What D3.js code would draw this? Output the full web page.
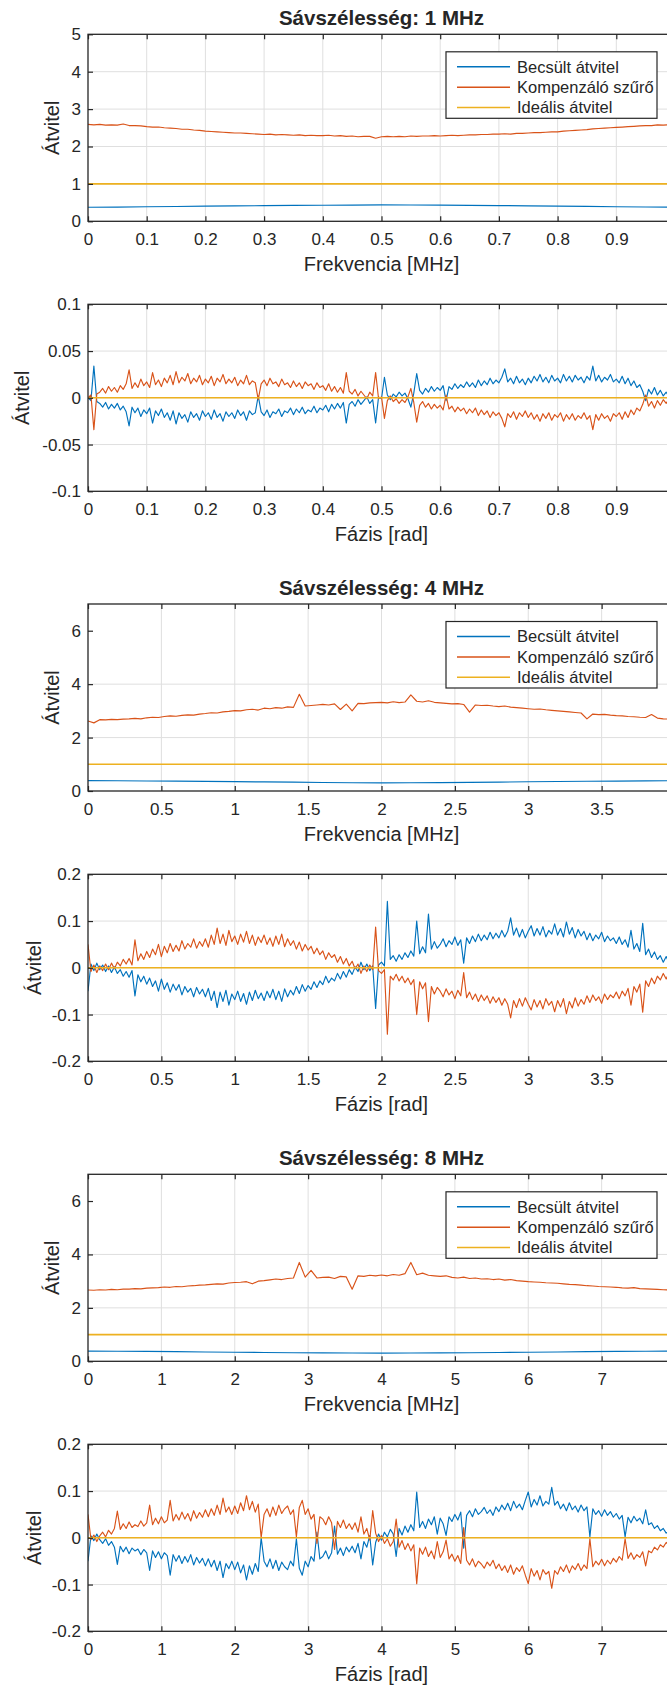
<!DOCTYPE html>
<html>
<head>
<meta charset="utf-8">
<script src="https://cdn.jsdelivr.net/npm/d3@7/dist/d3.min.js"></script>
<style>
  body { margin: 0; background: #fff; }
  svg { display: block; }
  text { font-family: "Liberation Sans", Arial, Helvetica, sans-serif; fill: #262626; }
</style>
</head>
<body>
<svg id="chart" width="667" height="1688"></svg>
<script>
// series names / colours (MATLAB default order)
const seriesNames = ["Becsült átvitel", "Kompenzáló szűrő", "Ideális átvitel"];
const colors = ["#0072bd", "#d95319", "#edb120"];
const titles = ["Sávszélesség: 1 MHz", "Sávszélesség: 4 MHz", "Sávszélesség: 8 MHz"];
const bandwidths = [1, 4, 8];

// tick values
const xTicks1 = [0, 0.1, 0.2, 0.3, 0.4, 0.5, 0.6, 0.7, 0.8, 0.9];
const xTicks4 = [0, 0.5, 1, 1.5, 2, 2.5, 3, 3.5];
const xTicks8 = [0, 1, 2, 3, 4, 5, 6, 7];
const yTicksMag1 = [0, 1, 2, 3, 4, 5];
const yTicksMag = [0, 2, 4, 6];
const yTicksPh1 = [-0.1, -0.05, 0, 0.05, 0.1];
const yTicksPh = [-0.2, -0.1, 0, 0.1, 0.2];

// --- 1 MHz: magnitude (samples evenly spread over 0..1 MHz)
const becsultMag1 = [0.375, 0.38, 0.388, 0.396, 0.404, 0.412, 0.419, 0.425, 0.43, 0.434, 0.438,
  0.436, 0.432, 0.427, 0.421, 0.414, 0.406, 0.398, 0.39, 0.382, 0.376];
const kompMag1 = [
  2.59, 2.58, 2.59, 2.57, 2.58, 2.57, 2.6, 2.56, 2.56, 2.55,
  2.53, 2.52, 2.52, 2.5, 2.49, 2.48, 2.46, 2.46, 2.44, 2.43,
  2.41, 2.4, 2.39, 2.38, 2.37, 2.36, 2.36, 2.35, 2.34, 2.33,
  2.32, 2.33, 2.31, 2.32, 2.31, 2.3, 2.31, 2.29, 2.3, 2.29,
  2.29, 2.3, 2.28, 2.29, 2.27, 2.28, 2.26, 2.27, 2.27, 2.22,
  2.26, 2.27, 2.26, 2.27, 2.26, 2.28, 2.27, 2.28, 2.28, 2.29,
  2.28, 2.29, 2.3, 2.29, 2.3, 2.31, 2.31, 2.32, 2.32, 2.33,
  2.33, 2.34, 2.33, 2.35, 2.35, 2.36, 2.37, 2.37, 2.38, 2.39,
  2.39, 2.41, 2.42, 2.43, 2.44, 2.45, 2.47, 2.48, 2.49, 2.5,
  2.51, 2.52, 2.53, 2.54, 2.55, 2.56, 2.56, 2.58, 2.57, 2.58,
  2.59];

// --- 1 MHz: phase
const becsultPh1 = [
  0, -0.003, 0.034, -0.004, -0.006, -0.01, -0.005, -0.012, -0.007, -0.011,
  -0.006, -0.013, -0.009, -0.015, -0.03, -0.01, -0.016, -0.011, -0.02, -0.013,
  -0.017, -0.011, -0.027, -0.014, -0.019, -0.012, -0.021, -0.016, -0.024, -0.014,
  -0.028, -0.016, -0.022, -0.018, -0.026, -0.015, -0.021, -0.017, -0.024, -0.014,
  -0.02, -0.016, -0.023, -0.013, -0.021, -0.017, -0.025, -0.015, -0.02, -0.016,
  -0.022, -0.013, -0.019, -0.015, -0.024, -0.014, -0.018, -0.016, 0.002, -0.015,
  -0.019, -0.013, -0.021, -0.015, -0.017, -0.012, -0.02, -0.014, -0.016, -0.011,
  -0.018, -0.012, -0.016, -0.01, -0.017, -0.013, -0.015, -0.009, -0.016, -0.011,
  -0.013, -0.008, -0.015, -0.007, -0.012, -0.006, -0.011, -0.005, -0.027, -0.007,
  -0.004, -0.009, -0.002, -0.007, -0.003, 0.001, -0.006, -0.002, -0.027, 0.001,
  -0.001, 0.022, 0.003, -0.002, 0.004, 0.001, 0.006, 0.002, 0.005, -0.001,
  -0.01, 0.005, 0.026, 0.008, 0.004, 0.01, 0.006, 0.012, 0.007, 0.011,
  0.008, 0.013, -0.003, 0.012, 0.009, 0.015, 0.01, 0.014, 0.011, 0.017,
  0.012, 0.016, 0.011, 0.019, 0.013, 0.018, 0.014, 0.021, 0.015, 0.019,
  0.016, 0.022, 0.031, 0.017, 0.021, 0.015, 0.023, 0.016, 0.02, 0.014,
  0.021, 0.016, 0.023, 0.018, 0.025, 0.017, 0.022, 0.016, 0.024, 0.018,
  0.021, 0.016, 0.025, 0.018, 0.023, 0.017, 0.024, 0.019, 0.022, 0.016,
  0.023, 0.019, 0.034, 0.018, 0.024, 0.017, 0.022, 0.019, 0.025, 0.017,
  0.02, 0.016, 0.023, 0.015, 0.021, 0.013, 0.018, 0.011, 0.014, 0.007,
  -0.003, 0.009, 0.004, 0.011, 0.003, 0.008, 0.002, 0.006, 0.001, 0.005,
  0.003];
const kompPh1 = [
  0, 0.003, -0.034, 0.004, 0.006, 0.01, 0.005, 0.012, 0.007, 0.011,
  0.006, 0.013, 0.009, 0.015, 0.03, 0.01, 0.016, 0.011, 0.02, 0.013,
  0.017, 0.011, 0.027, 0.014, 0.019, 0.012, 0.021, 0.016, 0.024, 0.014,
  0.028, 0.016, 0.022, 0.018, 0.026, 0.015, 0.021, 0.017, 0.024, 0.014,
  0.02, 0.016, 0.023, 0.013, 0.021, 0.017, 0.025, 0.015, 0.02, 0.016,
  0.022, 0.013, 0.019, 0.015, 0.024, 0.014, 0.018, 0.016, -0.002, 0.015,
  0.019, 0.013, 0.021, 0.015, 0.017, 0.012, 0.02, 0.014, 0.016, 0.011,
  0.018, 0.012, 0.016, 0.01, 0.017, 0.013, 0.015, 0.009, 0.016, 0.011,
  0.013, 0.008, 0.015, 0.007, 0.012, 0.006, 0.011, 0.005, 0.027, 0.007,
  0.004, 0.009, 0.002, 0.007, 0.003, -0.001, 0.006, 0.002, 0.027, -0.001,
  0.001, -0.022, -0.003, 0.002, -0.004, -0.001, -0.006, -0.002, -0.005, 0.001,
  0.01, -0.005, -0.026, -0.008, -0.004, -0.01, -0.006, -0.012, -0.007, -0.011,
  -0.008, -0.013, 0.003, -0.012, -0.009, -0.015, -0.01, -0.014, -0.011, -0.017,
  -0.012, -0.016, -0.011, -0.019, -0.013, -0.018, -0.014, -0.021, -0.015, -0.019,
  -0.016, -0.022, -0.031, -0.017, -0.021, -0.015, -0.023, -0.016, -0.02, -0.014,
  -0.021, -0.016, -0.023, -0.018, -0.025, -0.017, -0.022, -0.016, -0.024, -0.018,
  -0.021, -0.016, -0.025, -0.018, -0.023, -0.017, -0.024, -0.019, -0.022, -0.016,
  -0.023, -0.019, -0.034, -0.018, -0.024, -0.017, -0.022, -0.019, -0.025, -0.017,
  -0.02, -0.016, -0.023, -0.015, -0.021, -0.013, -0.018, -0.011, -0.014, -0.007,
  0.003, -0.009, -0.004, -0.011, -0.003, -0.008, -0.002, -0.006, -0.001, -0.005,
  -0.003];

// --- 4 MHz: magnitude
const becsultMag4 = [0.39, 0.385, 0.375, 0.37, 0.36, 0.35, 0.34, 0.33, 0.32, 0.31, 0.305,
  0.31, 0.315, 0.325, 0.335, 0.345, 0.355, 0.365, 0.37, 0.38, 0.385];
const kompMag4 = [
  2.62, 2.55, 2.67, 2.66, 2.68, 2.67, 2.69, 2.7, 2.72, 2.7,
  2.74, 2.76, 2.75, 2.79, 2.81, 2.8, 2.83, 2.85, 2.84, 2.88,
  2.9, 2.93, 2.92, 2.96, 2.98, 3.01, 3.0, 3.04, 3.06, 3.03,
  3.1, 3.08, 3.12, 3.1, 3.15, 3.13, 3.62, 3.18, 3.2, 3.22,
  3.24, 3.22, 3.26, 3.05, 3.25, 3.0, 3.28, 3.27, 3.3, 3.31,
  3.32, 3.3, 3.34, 3.31, 3.33, 3.6, 3.36, 3.33, 3.38, 3.32,
  3.3, 3.28, 3.26, 3.27, 3.24, 2.95, 3.22, 3.2, 3.21, 3.18,
  3.16, 3.18, 3.14, 3.12, 3.1, 3.08, 3.06, 3.07, 3.04, 3.02,
  3.0, 2.98, 2.96, 2.94, 2.92, 2.7, 2.88, 2.86, 2.87, 2.84,
  2.82, 2.81, 2.79, 2.78, 2.76, 2.75, 2.86, 2.73, 2.7, 2.69,
  2.67];

// --- 4 MHz: phase
const becsultPh4 = [
  -0.05, 0.008, -0.006, 0.01, -0.004, 0.006, -0.008, 0.004, -0.01, 0.002,
  -0.012, -0.004, -0.018, -0.008, -0.02, -0.006, -0.06, -0.015, -0.03, -0.018,
  -0.035, -0.022, -0.04, -0.028, -0.05, -0.024, -0.046, -0.032, -0.052, -0.035,
  -0.048, -0.036, -0.058, -0.04, -0.052, -0.044, -0.062, -0.042, -0.056, -0.046,
  -0.062, -0.044, -0.07, -0.05, -0.085, -0.052, -0.072, -0.048, -0.08, -0.056,
  -0.068, -0.05, -0.072, -0.055, -0.078, -0.052, -0.07, -0.048, -0.066, -0.054,
  -0.07, -0.05, -0.064, -0.046, -0.068, -0.05, -0.072, -0.045, -0.062, -0.048,
  -0.058, -0.04, -0.055, -0.036, -0.05, -0.038, -0.046, -0.03, -0.042, -0.028,
  -0.036, -0.018, -0.032, -0.022, -0.028, -0.012, -0.024, -0.008, -0.02, -0.004,
  -0.014, 0.002, -0.008, 0.012, -0.004, 0.008, -0.006, 0.004, -0.087, 0.006,
  0.012, 0.004, 0.142, 0.018, 0.026, 0.014, 0.028, 0.018, 0.032, 0.022,
  0.036, 0.025, 0.1, 0.03, 0.045, 0.032, 0.115, 0.04, 0.056, 0.042,
  0.05, 0.062, 0.045, 0.058, 0.05, 0.066, 0.048, 0.06, 0.01, 0.064,
  0.052, 0.068, 0.056, 0.072, 0.058, 0.07, 0.06, 0.076, 0.062, 0.074,
  0.064, 0.08, 0.066, 0.078, 0.107, 0.07, 0.085, 0.066, 0.082, 0.064,
  0.078, 0.09, 0.068, 0.084, 0.07, 0.088, 0.066, 0.08, 0.072, 0.094,
  0.07, 0.084, 0.066, 0.098, 0.072, 0.086, 0.064, 0.082, 0.068, 0.078,
  0.06, 0.074, 0.058, 0.07, 0.062, 0.076, 0.056, 0.068, 0.058, 0.064,
  0.052, 0.066, 0.05, 0.06, 0.044, 0.08, 0.04, 0.052, 0.035, 0.095,
  0.028, 0.04, 0.022, 0.034, 0.018, 0.026, 0.012, 0.024, 0.01, 0.018,
  0.012];
const kompPh4 = [
  0.05, -0.008, 0.006, -0.01, 0.004, -0.006, 0.008, -0.004, 0.01, -0.002,
  0.012, 0.004, 0.018, 0.008, 0.02, 0.006, 0.06, 0.015, 0.03, 0.018,
  0.035, 0.022, 0.04, 0.028, 0.05, 0.024, 0.046, 0.032, 0.052, 0.035,
  0.048, 0.036, 0.058, 0.04, 0.052, 0.044, 0.062, 0.042, 0.056, 0.046,
  0.062, 0.044, 0.07, 0.05, 0.085, 0.052, 0.072, 0.048, 0.08, 0.056,
  0.068, 0.05, 0.072, 0.055, 0.078, 0.052, 0.07, 0.048, 0.066, 0.054,
  0.07, 0.05, 0.064, 0.046, 0.068, 0.05, 0.072, 0.045, 0.062, 0.048,
  0.058, 0.04, 0.055, 0.036, 0.05, 0.038, 0.046, 0.03, 0.042, 0.028,
  0.036, 0.018, 0.032, 0.022, 0.028, 0.012, 0.024, 0.008, 0.02, 0.004,
  0.014, -0.002, 0.008, -0.012, 0.004, -0.008, 0.006, -0.004, 0.087, -0.006,
  -0.012, -0.004, -0.142, -0.018, -0.026, -0.014, -0.028, -0.018, -0.032, -0.022,
  -0.036, -0.025, -0.1, -0.03, -0.045, -0.032, -0.115, -0.04, -0.056, -0.042,
  -0.05, -0.062, -0.045, -0.058, -0.05, -0.066, -0.048, -0.06, -0.01, -0.064,
  -0.052, -0.068, -0.056, -0.072, -0.058, -0.07, -0.06, -0.076, -0.062, -0.074,
  -0.064, -0.08, -0.066, -0.078, -0.107, -0.07, -0.085, -0.066, -0.082, -0.064,
  -0.078, -0.09, -0.068, -0.084, -0.07, -0.088, -0.066, -0.08, -0.072, -0.094,
  -0.07, -0.084, -0.066, -0.098, -0.072, -0.086, -0.064, -0.082, -0.068, -0.078,
  -0.06, -0.074, -0.058, -0.07, -0.062, -0.076, -0.056, -0.068, -0.058, -0.064,
  -0.052, -0.066, -0.05, -0.06, -0.044, -0.08, -0.04, -0.052, -0.035, -0.095,
  -0.028, -0.04, -0.022, -0.034, -0.018, -0.026, -0.012, -0.024, -0.01, -0.018,
  -0.012];

// --- 8 MHz: magnitude
const becsultMag8 = [0.38, 0.375, 0.37, 0.36, 0.35, 0.34, 0.33, 0.32, 0.315, 0.31, 0.305,
  0.31, 0.315, 0.32, 0.33, 0.34, 0.35, 0.36, 0.37, 0.375, 0.38];
const kompMag8 = [
  2.67, 2.66, 2.68, 2.67, 2.69, 2.68, 2.7, 2.7, 2.72, 2.71,
  2.74, 2.75, 2.76, 2.78, 2.77, 2.8, 2.79, 2.82, 2.83, 2.85,
  2.86, 2.88, 2.9, 2.89, 2.93, 2.95, 2.96, 2.98, 2.9, 3.0,
  3.02, 3.05, 3.08, 3.06, 3.1, 3.12, 3.7, 3.15, 3.4, 3.12,
  3.14, 3.15, 3.1, 3.18, 3.16, 2.7, 3.2, 3.18, 3.22, 3.2,
  3.23, 3.2, 3.25, 3.22, 3.28, 3.7, 3.24, 3.3, 3.22, 3.2,
  3.18, 3.2, 3.14, 3.12, 3.15, 3.1, 3.12, 3.08, 3.09, 3.06,
  3.08, 3.04, 3.06, 3.02, 3.0, 2.98, 2.97, 2.96, 2.94, 2.93,
  2.92, 2.9, 2.88, 2.87, 2.85, 2.83, 2.82, 2.8, 2.79, 2.78,
  2.77, 2.75, 2.74, 2.76, 2.72, 2.71, 2.7, 2.69, 2.68, 2.67,
  2.66];

// --- 8 MHz: phase
const becsultPh8 = [
  -0.05, 0.004, -0.006, 0.008, -0.004, -0.012, -0.002, -0.016, -0.008, -0.02,
  -0.057, -0.018, -0.03, -0.02, -0.034, -0.022, -0.028, -0.024, -0.036, -0.025,
  -0.032, -0.07, -0.028, -0.042, -0.03, -0.045, -0.032, -0.038, -0.08, -0.036,
  -0.05, -0.038, -0.055, -0.04, -0.052, -0.036, -0.058, -0.042, -0.054, -0.044,
  -0.06, -0.045, -0.062, -0.048, -0.07, -0.05, -0.085, -0.055, -0.066, -0.05,
  -0.068, -0.052, -0.075, -0.058, -0.09, -0.06, -0.078, -0.055, -0.072, 0.0,
  -0.05, -0.062, -0.045, -0.066, -0.048, -0.07, -0.052, -0.062, -0.068, -0.05,
  -0.06, -0.002, -0.065, -0.08, -0.05, -0.062, -0.04, -0.05, 0.012, -0.045,
  -0.04, -0.028, -0.045, -0.032, 0.025, -0.035, -0.022, -0.038, -0.02, -0.03,
  -0.018, -0.032, -0.012, -0.045, -0.008, -0.02, 0.005, -0.058, -0.01, 0.008,
  -0.005, 0.012, 0.002, 0.018, 0.008, -0.04, 0.02, 0.006, 0.025, 0.012,
  0.028, 0.015, 0.098, 0.022, 0.035, 0.02, 0.04, 0.028, 0.045, 0.008,
  0.042, 0.03, 0.005, 0.045, 0.035, 0.05, 0.038, 0.055, -0.022, 0.048,
  0.058, 0.045, 0.062, 0.05, 0.056, 0.065, 0.052, 0.06, 0.048, 0.066,
  0.056, 0.07, 0.06, 0.074, 0.058, 0.078, 0.064, 0.072, 0.06, 0.08,
  0.098, 0.066, 0.082, 0.07, 0.09, 0.068, 0.078, 0.072, 0.108, 0.07,
  0.078, 0.062, 0.072, 0.058, 0.075, 0.06, 0.068, 0.055, 0.07, 0.058,
  0.066, 0.002, 0.062, 0.05, 0.058, 0.046, 0.06, 0.048, 0.056, 0.044,
  0.052, 0.04, 0.048, 0.002, 0.044, 0.032, 0.046, 0.036, 0.042, 0.03,
  0.06, 0.028, 0.032, 0.02, 0.026, 0.015, 0.02, 0.01, 0.014, 0.008,
  0.008];
const kompPh8 = [
  0.05, -0.004, 0.006, -0.008, 0.004, 0.012, 0.002, 0.016, 0.008, 0.02,
  0.057, 0.018, 0.03, 0.02, 0.034, 0.022, 0.028, 0.024, 0.036, 0.025,
  0.032, 0.07, 0.028, 0.042, 0.03, 0.045, 0.032, 0.038, 0.08, 0.036,
  0.05, 0.038, 0.055, 0.04, 0.052, 0.036, 0.058, 0.042, 0.054, 0.044,
  0.06, 0.045, 0.062, 0.048, 0.07, 0.05, 0.085, 0.055, 0.066, 0.05,
  0.068, 0.052, 0.075, 0.058, 0.09, 0.06, 0.078, 0.055, 0.072, 0.0,
  0.05, 0.062, 0.045, 0.066, 0.048, 0.07, 0.052, 0.062, 0.068, 0.05,
  0.06, 0.002, 0.065, 0.08, 0.05, 0.062, 0.04, 0.05, -0.012, 0.045,
  0.04, 0.028, 0.045, 0.032, -0.025, 0.035, 0.022, 0.038, 0.02, 0.03,
  0.018, 0.032, 0.012, 0.045, 0.008, 0.02, -0.005, 0.058, 0.01, -0.008,
  0.005, -0.012, -0.002, -0.018, -0.008, 0.04, -0.02, -0.006, -0.025, -0.012,
  -0.028, -0.015, -0.098, -0.022, -0.035, -0.02, -0.04, -0.028, -0.045, -0.008,
  -0.042, -0.03, -0.005, -0.045, -0.035, -0.05, -0.038, -0.055, 0.022, -0.048,
  -0.058, -0.045, -0.062, -0.05, -0.056, -0.065, -0.052, -0.06, -0.048, -0.066,
  -0.056, -0.07, -0.06, -0.074, -0.058, -0.078, -0.064, -0.072, -0.06, -0.08,
  -0.098, -0.066, -0.082, -0.07, -0.09, -0.068, -0.078, -0.072, -0.108, -0.07,
  -0.078, -0.062, -0.072, -0.058, -0.075, -0.06, -0.068, -0.055, -0.07, -0.058,
  -0.066, -0.002, -0.062, -0.05, -0.058, -0.046, -0.06, -0.048, -0.056, -0.044,
  -0.052, -0.04, -0.048, -0.002, -0.044, -0.032, -0.046, -0.036, -0.042, -0.03,
  -0.06, -0.028, -0.032, -0.02, -0.026, -0.015, -0.02, -0.01, -0.014, -0.008,
  -0.008];

// ideal transfer: |H| = 1, phase = 0
const idealMag = [1, 1];
const idealPh = [0, 0];

// layout
const left = 88, plotW = 587, plotH = 187;
const panelTops = [34.3, 304.3, 604, 874.3, 1174.3, 1444.3];

const panels = [
  { top: panelTops[0], bw: bandwidths[0], title: titles[0], legend: true, xLabel: "Frekvencia [MHz]",
    yDomain: [0, 5], yTicks: yTicksMag1, xTicks: xTicks1, series: [becsultMag1, kompMag1, idealMag], ylabX: 52 },
  { top: panelTops[1], bw: bandwidths[0], xLabel: "Fázis [rad]",
    yDomain: [-0.1, 0.1], yTicks: yTicksPh1, xTicks: xTicks1, series: [becsultPh1, kompPh1, idealPh], ylabX: 22 },
  { top: panelTops[2], bw: bandwidths[1], title: titles[1], legend: true, xLabel: "Frekvencia [MHz]",
    yDomain: [0, 7], yTicks: yTicksMag, xTicks: xTicks4, series: [becsultMag4, kompMag4, idealMag], ylabX: 52 },
  { top: panelTops[3], bw: bandwidths[1], xLabel: "Fázis [rad]",
    yDomain: [-0.2, 0.2], yTicks: yTicksPh, xTicks: xTicks4, series: [becsultPh4, kompPh4, idealPh], ylabX: 34 },
  { top: panelTops[4], bw: bandwidths[2], title: titles[2], legend: true, xLabel: "Frekvencia [MHz]",
    yDomain: [0, 7], yTicks: yTicksMag, xTicks: xTicks8, series: [becsultMag8, kompMag8, idealMag], ylabX: 52 },
  { top: panelTops[5], bw: bandwidths[2], xLabel: "Fázis [rad]",
    yDomain: [-0.2, 0.2], yTicks: yTicksPh, xTicks: xTicks8, series: [becsultPh8, kompPh8, idealPh], ylabX: 34 }
];

const svg = d3.select("#chart");
const fmt = d => String(d);

panels.forEach((p, pi) => {
  const x = d3.scaleLinear().domain([0, p.bw]).range([left, left + plotW]);
  const y = d3.scaleLinear().domain(p.yDomain).range([p.top + plotH, p.top]);
  const g = svg.append("g");

  // grid
  g.append("g").selectAll("line").data(p.xTicks.slice(1)).join("line")
    .attr("x1", d => x(d)).attr("x2", d => x(d))
    .attr("y1", p.top).attr("y2", p.top + plotH)
    .attr("stroke", "#dfdfdf").attr("stroke-width", 1);
  g.append("g").selectAll("line").data(p.yTicks.slice(1, -1)).join("line")
    .attr("x1", left).attr("x2", left + plotW)
    .attr("y1", d => y(d)).attr("y2", d => y(d))
    .attr("stroke", "#dfdfdf").attr("stroke-width", 1);

  // data lines
  const clipId = "clip" + pi;
  g.append("clipPath").attr("id", clipId).append("rect")
    .attr("x", left).attr("y", p.top).attr("width", plotW).attr("height", plotH);
  const lines = g.append("g").attr("clip-path", "url(#" + clipId + ")");
  p.series.forEach((vals, si) => {
    const n = vals.length;
    const line = d3.line()
      .x((d, i) => x(i * p.bw / (n - 1)))
      .y(d => y(d));
    lines.append("path")
      .datum(vals)
      .attr("d", line)
      .attr("fill", "none")
      .attr("stroke", colors[si])
      .attr("stroke-width", si === 2 ? 1.6 : 1.15)
      .attr("stroke-linejoin", "round");
  });

  // axes (ticks inside the box)
  const xb = g.append("g").attr("transform", `translate(0,${p.top + plotH})`)
    .call(d3.axisBottom(x).tickValues(p.xTicks).tickFormat(fmt).tickSizeInner(-5).tickSizeOuter(0).tickPadding(12));
  const xt = g.append("g").attr("transform", `translate(0,${p.top})`)
    .call(d3.axisTop(x).tickValues(p.xTicks).tickFormat("").tickSizeInner(-5).tickSizeOuter(0));
  const yl = g.append("g").attr("transform", `translate(${left},0)`)
    .call(d3.axisLeft(y).tickValues(p.yTicks).tickFormat(fmt).tickSizeInner(-5).tickSizeOuter(0).tickPadding(7));
  [xb, xt, yl].forEach(a => {
    a.select(".domain").remove();
    a.selectAll(".tick line").attr("stroke", "#262626").attr("stroke-width", 1.2);
    a.selectAll("text").attr("font-family", null).attr("font-size", 17).attr("fill", "#262626");
  });

  // box
  g.append("rect")
    .attr("x", left).attr("y", p.top).attr("width", plotW).attr("height", plotH)
    .attr("fill", "none").attr("stroke", "#262626").attr("stroke-width", 1.3);

  // labels
  g.append("text")
    .attr("x", left + plotW / 2).attr("y", p.top + plotH + 50)
    .attr("text-anchor", "middle").attr("font-size", 20)
    .text(p.xLabel);
  g.append("text")
    .attr("transform", `translate(${p.ylabX},${p.top + plotH / 2}) rotate(-90)`)
    .attr("text-anchor", "middle").attr("dy", "0.35em").attr("font-size", 20)
    .text("Átvitel");
  if (p.title) {
    g.append("text")
      .attr("x", left + plotW / 2).attr("y", p.top - 9)
      .attr("text-anchor", "middle").attr("font-size", 20.5).attr("font-weight", "bold")
      .attr("fill", "#000")
      .text(p.title);
  }

  // legend
  if (p.legend) {
    const lx = 446, ly = p.top + 17.5, lw = 211, lh = 66.5;
    const lg = g.append("g");
    lg.append("rect").attr("x", lx).attr("y", ly).attr("width", lw).attr("height", lh)
      .attr("fill", "#fff").attr("stroke", "#262626").attr("stroke-width", 1.2);
    seriesNames.forEach((name, i) => {
      const ry = ly + 15 + i * 20.4;
      lg.append("line").attr("x1", lx + 11).attr("x2", lx + 64)
        .attr("y1", ry).attr("y2", ry)
        .attr("stroke", colors[i]).attr("stroke-width", 1.5);
      lg.append("text").attr("x", lx + 71).attr("y", ry).attr("dy", "0.35em")
        .attr("font-size", 16.5).text(name);
    });
  }
});
</script>
</body>
</html>
